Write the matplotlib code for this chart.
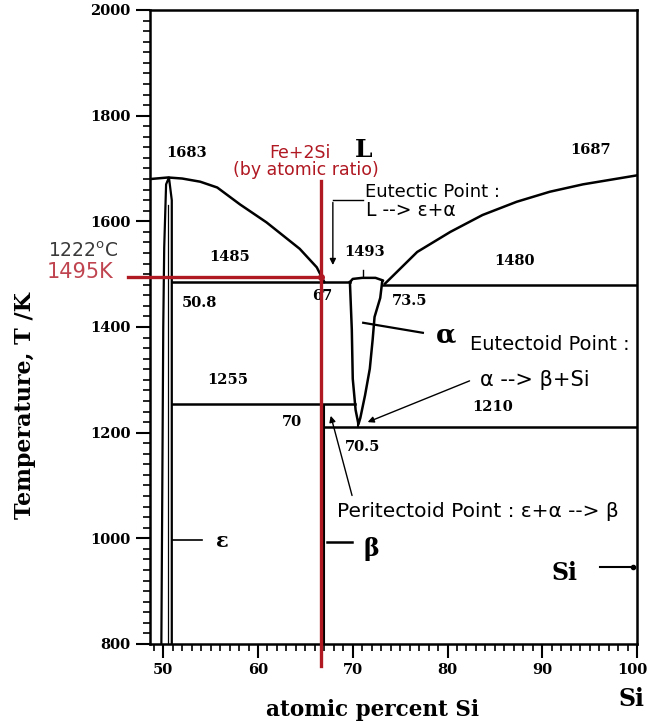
import matplotlib
matplotlib.use("Agg")
import matplotlib.pyplot as plt
from matplotlib.transforms import ScaledTranslation

# phase boundaries (at% Si, K)
liq_left_x = [48.6, 50.5, 52.0, 53.9, 55.7, 58.1, 60.9, 64.4, 66.2, 67.0]
liq_left_t = [1680, 1683, 1681, 1675, 1664, 1632, 1598, 1548, 1513, 1485]
liq_right_x = [73.4, 76.8, 80.3, 83.7, 87.3, 90.8, 94.3, 100.0]
liq_right_t = [1482, 1542, 1580, 1612, 1637, 1656, 1670, 1687]

eps_x = [49.8, 50.0, 50.1, 50.3, 50.6, 50.9, 50.9, 50.9]
eps_t = [800, 1400, 1550, 1670, 1683, 1640, 1485, 800]

alpha_x = [69.7, 69.9, 70.0, 70.3, 70.6, 70.8, 71.3, 71.8, 72.1, 72.3, 72.9, 73.1,
           73.2, 72.4, 71.0, 70.0, 69.7]
alpha_t = [1485, 1395, 1302, 1243, 1216, 1228, 1271, 1321, 1376, 1419, 1455, 1485,
           1488, 1493, 1493, 1491, 1485]

eutectic_left = (50.9, 69.7, 1485)
eutectic_right = (73.2, 100.0, 1480)
peritectoid = (50.9, 70.2, 1255)
eutectoid = (67.0, 100.0, 1210)
beta_x = 67.0

fesi2_x = 66.67
fesi2_t = 1495

value_labels = [("1683", 52.5, 1729), ("1687", 95.1, 1735), ("1485", 57.0, 1532),
                ("1493", 71.2, 1542), ("1480", 87.1, 1525), ("50.8", 53.8, 1445),
                ("67", 66.8, 1459), ("73.5", 76.0, 1449), ("1255", 56.8, 1300),
                ("1210", 84.8, 1249), ("70", 63.6, 1220), ("70.5", 71.0, 1173)]

red = "#b01822"
serif = "DejaVu Serif"
sans = "DejaVu Sans"

fig = plt.figure(figsize=(6.51, 7.24), dpi=100)
ax = fig.add_axes([0.2304, 0.1105, 0.7481, 0.8757])

ax.plot(liq_left_x, liq_left_t, color="black", lw=1.8)
ax.plot(liq_right_x, liq_right_t, color="black", lw=1.8)
ax.plot(eps_x, eps_t, color="black", lw=1.6)
ax.plot([50.55, 50.55], [800, 1630], color="black", lw=0.9)
ax.plot(alpha_x, alpha_t, color="black", lw=1.8)
ax.plot([70.6, 70.6], [1216, 1210], color="black", lw=1.5)
ax.plot([71.1, 71.1], [1497, 1507], color="black", lw=1)

for x0, x1, t in [eutectic_left, eutectic_right, peritectoid, eutectoid]:
    ax.plot([x0, x1], [t, t], color="black", lw=1.8)
ax.plot([beta_x, beta_x], [800, 1250], color="black", lw=1.5)

# Fe+2Si marker lines
ax.plot([fesi2_x, fesi2_x], [758, 1676], color=red, lw=2.4, clip_on=False, zorder=5)
ax.plot([46.3, fesi2_x], [fesi2_t, fesi2_t], color=red, lw=2.4, clip_on=False, zorder=5)
ax.plot([fesi2_x], [fesi2_t], "o", color=red, ms=4, zorder=6)

for s, x, t in value_labels:
    ax.text(x, t, s, ha="center", va="center", fontsize=10.5, fontweight="bold", family=serif)

ax.text(71.1, 1735, "L", ha="center", va="center", fontsize=18, fontweight="bold", family=serif)
ax.text(79.8, 1385, "α", ha="center", va="center", fontsize=19, fontweight="bold", family=serif)
ax.text(56.2, 995, "ε", ha="center", va="center", fontsize=15, fontweight="bold", family=serif)
ax.text(72.0, 980, "β", ha="center", va="center", fontsize=17, fontweight="bold", family=serif)
ax.text(92.3, 934, "Si", ha="center", va="center", fontsize=17, fontweight="bold", family=serif)

ax.text(64.4, 1729, "Fe+2Si", ha="center", va="center", fontsize=12.5, color=red, family=sans)
ax.text(65.0, 1697, "(by atomic ratio)", ha="center", va="center", fontsize=12.5, color=red,
        family=sans)

ax.text(71.3, 1655, "Eutectic Point :", ha="left", va="center", fontsize=13, family=sans)
ax.text(71.4, 1620, "L --> ε+α", ha="left", va="center", fontsize=13.5, family=sans)
ax.text(82.4, 1366, "Eutectoid Point :", ha="left", va="center", fontsize=14, family=sans)
ax.text(83.4, 1300, "α --> β+Si", ha="left", va="center", fontsize=15, family=sans)
ax.text(68.3, 1050, "Peritectoid Point : ε+α --> β", ha="left", va="center", fontsize=14.5,
        family=sans)

# pointers
ax.plot([71.1, 67.9], [1640, 1640], color="black", lw=1)
ax.annotate("", xy=(67.9, 1512), xytext=(67.9, 1641),
            arrowprops=dict(arrowstyle="-|>", color="black", lw=1, mutation_scale=9))
ax.annotate("", xy=(71.3, 1218), xytext=(82.6, 1300),
            arrowprops=dict(arrowstyle="-|>", color="black", lw=1, mutation_scale=9))
ax.annotate("", xy=(67.6, 1237), xytext=(70.0, 1076),
            arrowprops=dict(arrowstyle="-|>", color="black", lw=1, mutation_scale=9))
ax.plot([71.1, 77.4], [1408, 1389], color="black", lw=1.6)
ax.plot([50.9, 54.1], [997, 997], color="black", lw=1.2)
ax.plot([67.3, 69.9], [993, 993], color="black", lw=1.8)
ax.plot([96.1, 99.6], [946, 946], color="black", lw=1.5)
ax.plot([99.6], [946], "o", color="black", ms=3)

fig.text(118 / 651, 1 - 251 / 724, "1222$^\\mathrm{o}$C", ha="right", va="center",
         fontsize=13.5, color="#3a3a3a", family=sans)
fig.text(113 / 651, 1 - 272 / 724, "1495K", ha="right", va="center",
         fontsize=15, color="#bf4450", family=sans)

ax.set_xlim(48.6, 100)
ax.set_ylim(800, 2000)
ax.set_xticks(range(50, 101, 10))
ax.set_xticks(range(49, 101), minor=True)
ax.set_yticks(range(800, 2001, 200))
ax.set_yticks(range(800, 2001, 20), minor=True)
ax.tick_params(which="major", direction="out", length=10, width=1.5, labelsize=10.5, pad=4)
ax.tick_params(which="minor", direction="out", length=5, width=1.2)
for lab in ax.get_xticklabels() + ax.get_yticklabels():
    lab.set_family(serif)
    lab.set_fontweight("bold")
# keep the "100" label inside the figure edge
last = ax.get_xticklabels()[-1]
last.set_transform(last.get_transform() + ScaledTranslation(-5 / 100, 0, fig.dpi_scale_trans))
for sp in ax.spines.values():
    sp.set_linewidth(1.8)

fig.text(372 / 651, 1 - 710 / 724, "atomic percent Si", ha="center", va="center",
         fontsize=15.5, fontweight="bold", family=serif)
fig.text(25 / 651, 1 - 406 / 724, "Temperature, T /K", ha="center", va="center",
         rotation=90, fontsize=16, fontweight="bold", family=serif)
fig.text(632 / 651, 1 - 699 / 724, "Si", ha="center", va="center", fontsize=17,
         fontweight="bold", family=serif)

fig.savefig("out.png", dpi=100)
